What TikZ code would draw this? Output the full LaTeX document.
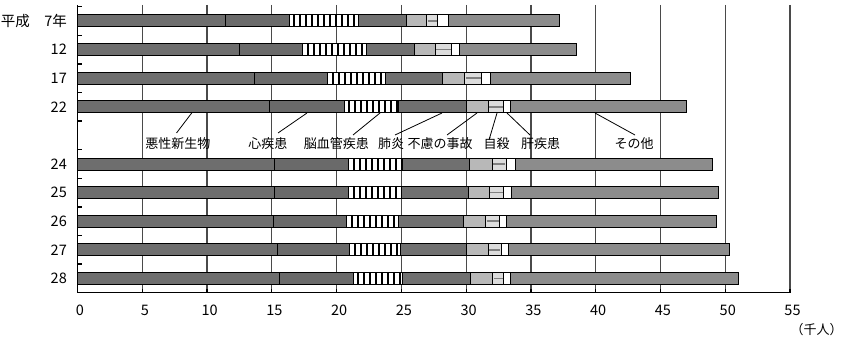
\documentclass[tikz,border=0pt]{standalone}
\usepackage{fontspec}
\setmainfont{Noto Sans CJK JP}
\definecolor{cmal}{HTML}{6E6E6E}
\definecolor{cheart}{HTML}{6A6A6A}
\definecolor{cpneu}{HTML}{707070}
\definecolor{cacc}{HTML}{B8B8B8}
\definecolor{csui}{HTML}{DCDCDC}
\definecolor{cother}{HTML}{8C8C8C}
\definecolor{cgrid}{HTML}{4A4A4A}
\begin{document}
\begin{tikzpicture}[x=1pt,y=-1pt,
  every node/.style={font=\fontsize{13}{15}\selectfont, inner sep=0pt},
  numlab/.style={font=\fontsize{14.5}{16}\selectfont},
  gridline/.style={draw=cgrid, line width=1.3pt},
  axisline/.style={draw=black, line width=1.3pt},
  barline/.style={draw=black, line width=1pt},
  leader/.style={draw=black, line width=0.8pt}]
\useasboundingbox (0,0) rectangle (842,337);
\def\xo{77.5}
\def\sc{12.955}
% grid lines
\foreach \v in {5,10,...,55} {
  \draw[gridline] ({\xo+\sc*\v},5) -- ({\xo+\sc*\v},292.7);
  \draw[axisline] ({\xo+\sc*\v},292.7) -- ({\xo+\sc*\v},288.5);
}
% bars
\foreach \s/\lab/\a/\b/\c/\d/\e/\f/\g/\t in {
  0/{平成　7年}/11.4/16.35/21.7/25.4/26.95/27.8/28.6/37.2,
  1/12/12.5/17.4/22.3/26.0/27.6/28.9/29.5/38.5,
  2/17/13.7/19.3/23.8/28.2/29.9/31.2/31.9/42.7,
  3/22/14.8/20.6/24.8/30.0/31.7/32.9/33.4/47.0,
  5/24/15.2/20.95/25.1/30.25/32.0/33.1/33.8/49.0,
  6/25/15.2/20.95/25.0/30.2/31.8/32.9/33.5/49.5,
  7/26/15.1/20.8/24.8/29.8/31.5/32.6/33.1/49.3,
  8/27/15.4/21.0/24.9/30.0/31.7/32.7/33.25/50.3,
  9/28/15.6/21.3/25.1/30.3/32.05/32.9/33.4/51.05} {
  \pgfmathsetmacro{\yc}{21+28.6*\s}
  \pgfmathsetmacro{\yt}{\yc-6}
  \pgfmathsetmacro{\yb}{\yc+6}
  \fill[cmal] (\xo,\yt) rectangle ({\xo+\sc*\a},\yb);
  \fill[cheart] ({\xo+\sc*\a},\yt) rectangle ({\xo+\sc*\b},\yb);
  \fill[white] ({\xo+\sc*\b},\yt) rectangle ({\xo+\sc*\c},\yb);
  \begin{scope}
    \clip ({\xo+\sc*\b},\yt) rectangle ({\xo+\sc*\c},\yb);
    \foreach \k in {0,...,12} {
      \fill[black] ({\xo+\sc*\b+4+6*\k},\yt) rectangle ++(2,12);
    }
  \end{scope}
  \fill[cpneu] ({\xo+\sc*\c},\yt) rectangle ({\xo+\sc*\d},\yb);
  \fill[cacc] ({\xo+\sc*\d},\yt) rectangle ({\xo+\sc*\e},\yb);
  \fill[csui] ({\xo+\sc*\e},\yt) rectangle ({\xo+\sc*\f},\yb);
  \draw[gray, line width=1.5pt] ({\xo+\sc*\e+1},\yc) -- ({\xo+\sc*\f-1},\yc);
  \fill[white] ({\xo+\sc*\f},\yt) rectangle ({\xo+\sc*\g},\yb);
  \fill[cother] ({\xo+\sc*\g},\yt) rectangle ({\xo+\sc*\t},\yb);
  \draw[barline] (\xo,\yt) rectangle ({\xo+\sc*\t},\yb);
  \foreach \q in {\a,\b,\c,\d,\e,\f,\g} {
    \draw[barline] ({\xo+\sc*\q},\yt) -- ({\xo+\sc*\q},\yb);
  }
  \node[numlab, anchor=east] (ylab\s) at (67,\yc) {\lab};
}
% axes
\draw[axisline] (\xo,5) -- (\xo,292.7) -- ({\xo+\sc*55},292.7);
\foreach \k in {0,...,10} {
  \draw[axisline] (\xo,{6.7+28.6*\k}) -- ({\xo+4.5},{6.7+28.6*\k});
}
% x labels
\foreach \v in {0,5,...,55} {
  \node[numlab] (xl\v) at ({\xo+\sc*\v+2.5},310.7) {\v};
}
\node (unit) at (816.5,329.3) {（千人）};
% category labels
\node (lmal) at (177.8,144) {悪性新生物};
\node (lheart) at (267.8,144) {心疾患};
\node (lcere) at (336.3,144) {脳血管疾患};
\node (lpneu) at (391.2,144) {肺炎};
\node (lacc) at (440,144) {不慮の事故};
\node (lsui) at (496.7,144) {自殺};
\node (lliv) at (540.7,144) {肝疾患};
\node (loth) at (634,144) {その他};
% leader lines
\coordinate (smal) at (191.7,113);
\coordinate (emal) at (176.5,133);
\coordinate (sheart) at (307,113);
\coordinate (eheart) at (278,133);
\coordinate (scere) at (380,113);
\coordinate (ecere) at (353,135);
\coordinate (spneu) at (442,113);
\coordinate (epneu) at (395,135);
\coordinate (sacc) at (477,113);
\coordinate (eacc) at (447,135);
\coordinate (ssui) at (497,113);
\coordinate (esui) at (489,140);
\coordinate (sliv) at (507,113);
\coordinate (eliv) at (530,135);
\coordinate (soth) at (595,113);
\coordinate (eoth) at (635,135);
\foreach \n in {mal,heart,cere,pneu,acc,sui,liv,oth} {
  \draw[leader] (s\n) -- (e\n);
}
\end{tikzpicture}
\end{document}
